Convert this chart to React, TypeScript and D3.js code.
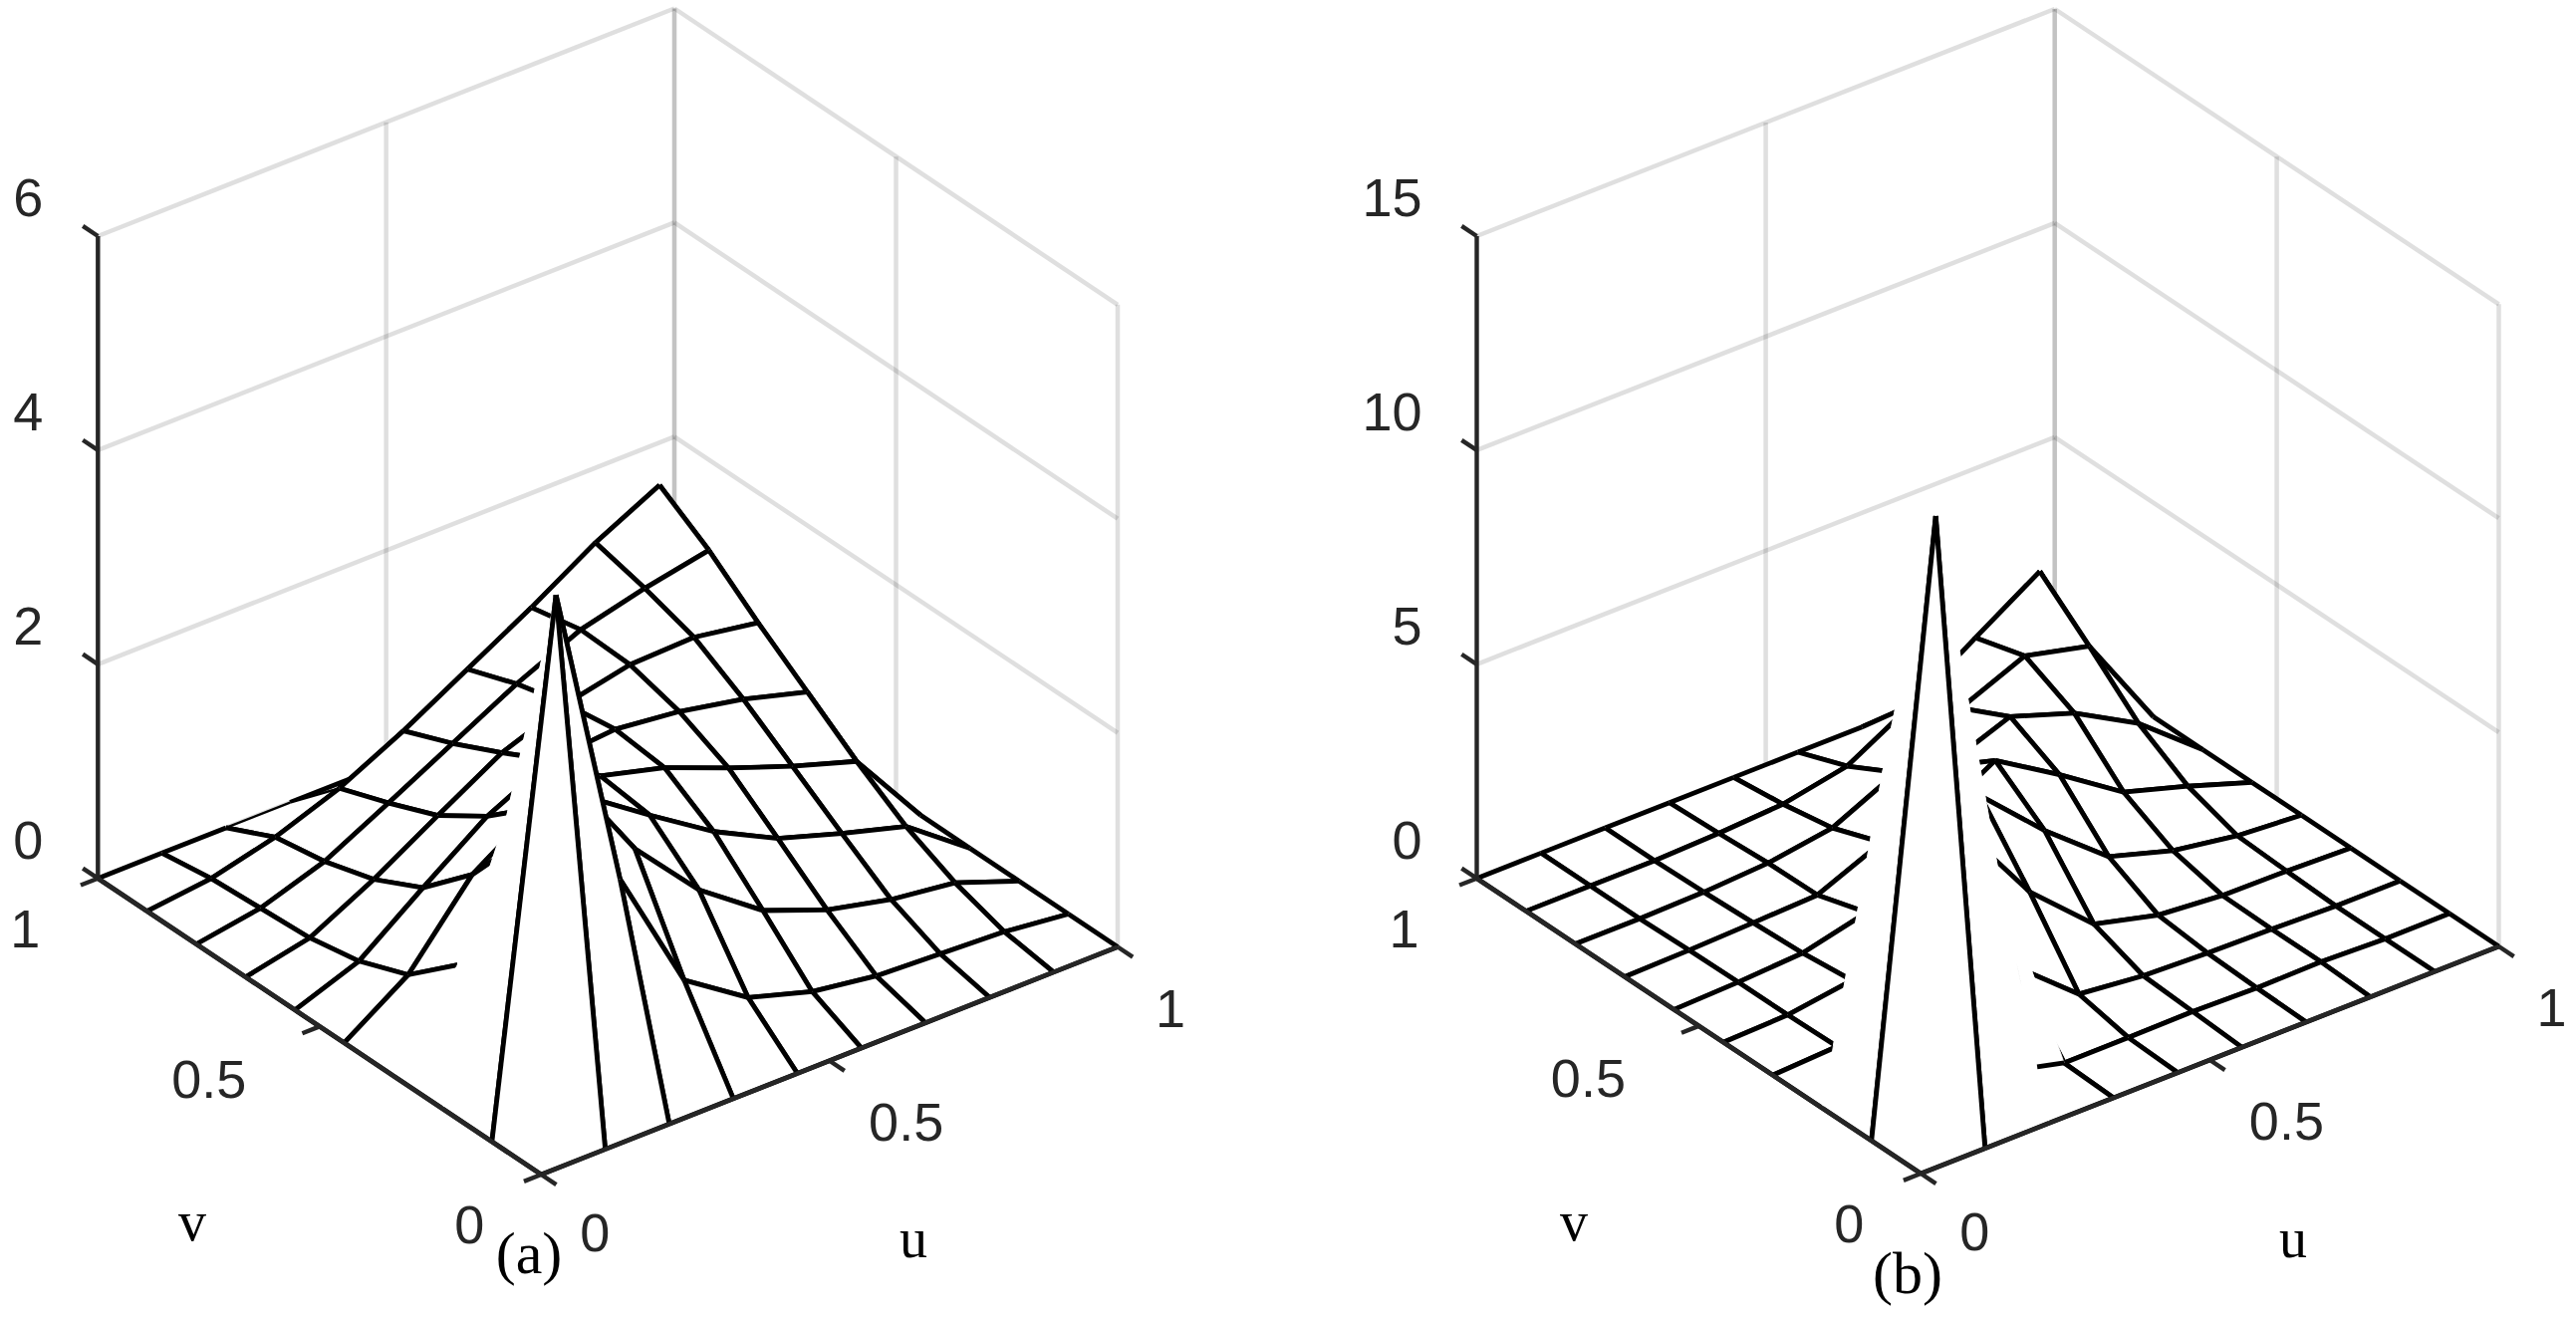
import React from 'react';
import * as d3 from 'd3';

// grid steps along u and v (10 lines each way)
const gridSteps = [0, 1 / 9, 2 / 9, 3 / 9, 4 / 9, 5 / 9, 6 / 9, 7 / 9, 8 / 9, 1];
const uvTicks = [0, 0.5, 1];
const uvTickLabels = ['0', '0.5', '1'];

// height tables, one row per v step, one column per u step
const zA = [
    [0, 0, 0, 0, 0, 0, 0, 0, 0, 0],
    [0, 4.87, 1.98, 0.8, 0.4, 0.22, 0.13, 0.1, 0.07, 0],
    [0, 2.5, 2.6, 1.72, 1.1, 0.67, 0.44, 0.3, 0.22, 0],
    [0, 0.8, 1.72, 1.9, 1.49, 1.1, 0.8, 0.61, 0.44, 0],
    [0, 0.4, 1.1, 1.49, 1.55, 1.39, 1.15, 0.93, 0.74, 0],
    [0, 0.22, 0.67, 1.1, 1.39, 1.44, 1.37, 1.25, 1.08, 0],
    [0, 0.13, 0.44, 0.8, 1.15, 1.37, 1.5, 1.52, 1.42, 0],
    [0, 0.1, 0.3, 0.61, 0.93, 1.25, 1.52, 1.67, 1.79, 0],
    [0, 0.07, 0.22, 0.44, 0.74, 1.08, 1.42, 1.79, 2.09, 0],
    [0, 0, 0, 0, 0, 0, 0, 0, 0, 0],
];
const zB = [
    [0, 0, 0, 0, 0, 0, 0, 0, 0, 0],
    [0, 14, 4.9, 0.05, 0.05, 0.07, 0.03, 0.05, 0, 0],
    [0, 7.75, 5, 1.54, 0.3, 0.14, 0.08, 0.05, 0, 0],
    [0, 0.08, 1.54, 3.9, 1.92, 0.58, 0.2, 0.07, 0.05, 0],
    [0, 0.05, 0.27, 1.92, 3.4, 2, 0.8, 0.35, 0.11, 0],
    [0, 0.05, 0.14, 0.5, 2, 2.87, 1.95, 0.95, 0.5, 0],
    [0, 0.03, 0.08, 0.14, 0.78, 1.97, 2.54, 2.03, 1.2, 0],
    [0, 0, 0.03, 0.12, 0.35, 1.06, 1.97, 2.6, 2.24, 0],
    [0, 0, 0, 0.05, 0.14, 0.44, 1.28, 2.26, 3.22, 0],
    [0, 0, 0, 0, 0, 0, 0, 0, 0, 0],
];
const zTicksA = [0, 2, 4, 6];
const zTicksB = [0, 5, 10, 15];

// mesh edges lost next to the spike in the original render: [i1, j1, i2, j2]
const hiddenEdgesA = [
    [1, 1, 1, 2], [1, 2, 2, 2], [2, 1, 2, 2], [0, 2, 1, 2], [0, 3, 1, 3],
    [1, 2, 1, 3], [1, 3, 2, 3], [2, 2, 2, 3],
];
const hiddenEdgesB = [
    [1, 1, 1, 2], [1, 1, 2, 1], [1, 2, 1, 3], [0, 2, 1, 2], [2, 0, 2, 1],
    [2, 1, 3, 1], [1, 2, 2, 2], [2, 1, 2, 2], [1, 3, 2, 3], [2, 2, 2, 3],
];
// edges that came out thin along the far ridge
const thinEdgesA = [[2, 9, 3, 9], [3, 9, 3, 8]];
const thinEdgesB = [];
// scraps of hidden edges that still show: [i1, j1, i2, j2, from, to]
const scrapsA = [[0, 3, 1, 3, 0, 0.55], [0, 2, 1, 2, 0, 0.12], [1, 3, 2, 3, 0.25, 0.47]];
const scrapsB = [[3, 1, 3, 2, 0, 0.1]];
// short leftover stroke beside the spike in (b): [u1, v1, z1, u2, v2, z2]
const stubsB = [[0.3333, 0.1111, 0.05, 0.2975, 0.1252, 0.05]];

const axisColor = '#262626';
const sansFont = '"Liberation Sans", Arial, sans-serif';
const serifFont = '"Liberation Serif", "Times New Roman", serif';

const vLabelOffsets = [[-72, 50], [-111, 52], [-73, 50]];
const uLabelOffsets = [[54, 58], [77, 61], [53, 61]];

const edgeKey = (a, b, c, d) => (a + b * 10 < c + d * 10 ? `${a},${b},${c},${d}` : `${c},${d},${a},${b}`);

const MeshPanel = ({heights, zTicks, hiddenEdges, thinEdges, scraps, stubs, front, left, right, zPixels, vLabel, uLabel, tag}) => {
    // orthographic view: u runs front -> right, v runs front -> left, z straight up
    const uX = d3.scaleLinear().domain([0, 1]).range([0, right[0] - front[0]]);
    const uY = d3.scaleLinear().domain([0, 1]).range([0, right[1] - front[1]]);
    const vX = d3.scaleLinear().domain([0, 1]).range([0, left[0] - front[0]]);
    const vY = d3.scaleLinear().domain([0, 1]).range([0, left[1] - front[1]]);
    const zY = d3.scaleLinear().domain([0, zTicks[zTicks.length - 1]]).range([0, -zPixels]);

    const project = (u, v, z) => [front[0] + uX(u) + vX(v), front[1] + uY(u) + vY(v) + zY(z)];
    const line = d3.line();
    const seg = (a, b) => line([a, b]);

    const hidden = new Set(hiddenEdges.map(e => edgeKey(e[0], e[1], e[2], e[3])));
    const thin = new Set(thinEdges.map(e => edgeKey(e[0], e[1], e[2], e[3])));
    const vertex = (i, j) => project(gridSteps[i], gridSteps[j], heights[j][i]);

    // painter's order, far corner first
    const quads = [];
    d3.range(gridSteps.length - 1).forEach(i => {
        d3.range(gridSteps.length - 1).forEach(j => quads.push([i, j]));
    });
    quads.sort((a, b) => (b[0] + b[1]) - (a[0] + a[1]));

    const zTop = zTicks[zTicks.length - 1];
    const wallProps = {stroke: axisColor, strokeOpacity: 0.15, strokeWidth: 4.5, fill: 'none'};

    return (
        <g>
            {/* back walls */}
            {zTicks.map(t => (
                <g key={t} {...wallProps}>
                    <path d={seg(project(0, 1, t), project(1, 1, t))}/>
                    <path d={seg(project(1, 1, t), project(1, 0, t))}/>
                </g>
            ))}
            {[0.5, 1].map(t => (
                <path key={'u' + t} {...wallProps} d={seg(project(t, 1, 0), project(t, 1, zTop))}/>
            ))}
            {[0, 0.5, 1].map(t => (
                <path key={'v' + t} {...wallProps} d={seg(project(1, t, 0), project(1, t, zTop))}/>
            ))}

            {/* surface */}
            {quads.map(([i, j]) => {
                const corners = [[i, j], [i + 1, j], [i + 1, j + 1], [i, j + 1]];
                const pts = corners.map(c => vertex(c[0], c[1]));
                return (
                    <g key={`${i}-${j}`}>
                        <path d={line(pts) + 'Z'} fill="#fff" stroke="#fff" strokeWidth={0.8}/>
                        {corners.map((c, k) => {
                            const n = corners[(k + 1) % 4];
                            const key = edgeKey(c[0], c[1], n[0], n[1]);
                            if (hidden.has(key)) return null;
                            return <path key={k} d={seg(pts[k], pts[(k + 1) % 4])} stroke="#000"
                                         strokeWidth={thin.has(key) ? 2.4 : 4.8} fill="none"/>;
                        })}
                    </g>
                );
            })}
            {scraps.map((s, k) => {
                const a = vertex(s[0], s[1]);
                const b = vertex(s[2], s[3]);
                const at = d3.interpolate(a, b);
                return <path key={'s' + k} d={seg(at(s[4]), at(s[5]))} stroke="#000" strokeWidth={1.3} fill="none"/>;
            })}
            {stubs.map((s, k) => (
                <path key={'b' + k} d={seg(project(s[0], s[1], s[2]), project(s[3], s[4], s[5]))}
                      stroke="#000" strokeWidth={4.8} fill="none"/>
            ))}

            {/* axes */}
            <g stroke={axisColor} strokeWidth={4.4} fill="none">
                <path d={seg(project(0, 1, 0), project(0, 1, zTop))}/>
                <path d={seg(project(0, 0, 0), project(1, 0, 0))}/>
                <path d={seg(project(0, 0, 0), project(0, 1, 0))}/>
                {zTicks.map(t => <path key={'zt' + t} d={seg(project(0, 1, t), project(0, 1.034, t))}/>)}
                {uvTicks.map(t => <path key={'ut' + t} d={seg(project(t, 0, 0), project(t, -0.034, 0))}/>)}
                {uvTicks.map(t => <path key={'vt' + t} d={seg(project(0, t, 0), project(-0.03, t, 0))}/>)}
            </g>

            {/* labels */}
            <g fontFamily={sansFont} fontSize={54} fill={axisColor} textAnchor="middle">
                {zTicks.map(t => {
                    const p = project(0, 1, t);
                    return <text key={t} x={p[0] - 55} y={p[1] - 39} dy="0.36em" textAnchor="end">{t}</text>;
                })}
                {uvTicks.map((t, k) => {
                    const p = project(0, t, 0);
                    return <text key={'v' + t} x={p[0] + vLabelOffsets[k][0]} y={p[1] + vLabelOffsets[k][1]} dy="0.36em">{uvTickLabels[k]}</text>;
                })}
                {uvTicks.map((t, k) => {
                    const p = project(t, 0, 0);
                    return <text key={'u' + t} x={p[0] + uLabelOffsets[k][0]} y={p[1] + uLabelOffsets[k][1]} dy="0.36em">{uvTickLabels[k]}</text>;
                })}
            </g>
            <g fontFamily={serifFont} fill="#000" textAnchor="middle">
                <text x={vLabel[0]} y={vLabel[1]} fontSize={56}>v</text>
                <text x={uLabel[0]} y={uLabel[1]} fontSize={56}>u</text>
                <text x={tag[1]} y={tag[2]} fontSize={60}>{tag[0]}</text>
            </g>
        </g>
    );
};

export default function App() {
    return (
        <svg width={2586} height={1323} style={{position: 'absolute', left: 0, top: 0, background: '#fff'}}>
            <MeshPanel heights={zA} zTicks={zTicksA} hiddenEdges={hiddenEdgesA} thinEdges={thinEdgesA}
                       scraps={scrapsA} stubs={[]}
                       front={[543.3, 1179]} left={[98.3, 881.7]} right={[1122, 950.5]} zPixels={644.7}
                       vLabel={[193, 1245]} uLabel={[917, 1262]} tag={['(a)', 531, 1278]}/>
            <MeshPanel heights={zB} zTicks={zTicksB} hiddenEdges={hiddenEdgesB} thinEdges={thinEdgesB}
                       scraps={scrapsB} stubs={stubsB}
                       front={[1928.3, 1178]} left={[1482.5, 881.7]} right={[2508.5, 950]} zPixels={644.7}
                       vLabel={[1580, 1245]} uLabel={[2302, 1262]} tag={['(b)', 1915, 1298]}/>
        </svg>
    );
}
